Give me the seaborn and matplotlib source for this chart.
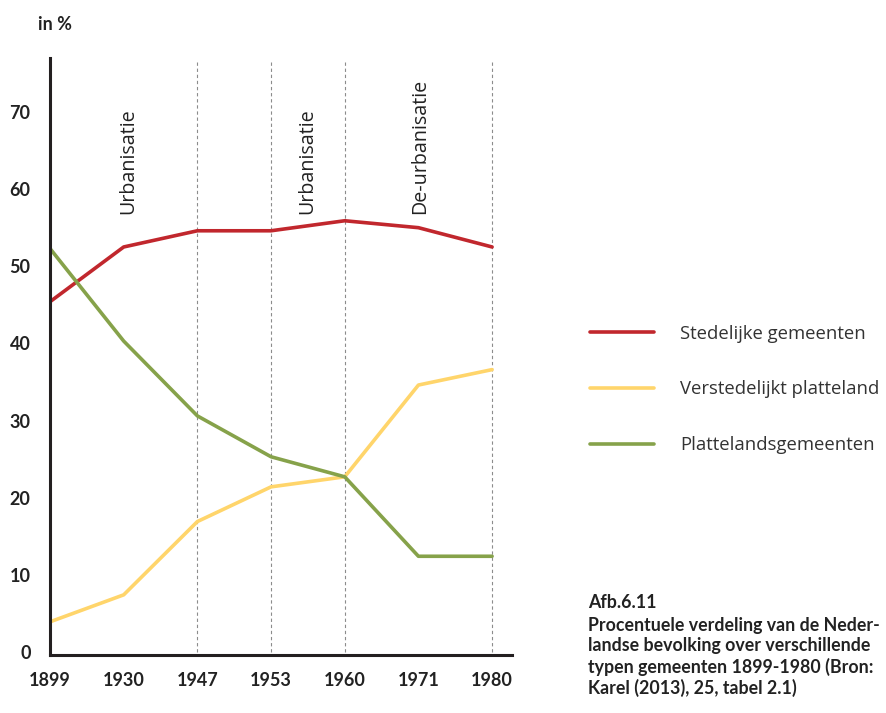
import matplotlib
matplotlib.use("Agg")
import matplotlib.pyplot as plt
import seaborn as sns
import pandas as pd
from matplotlib.lines import Line2D

years = ["1899", "1930", "1947", "1953", "1960", "1971", "1980"]
stedelijk = [45.4, 52.5, 54.6, 54.6, 55.9, 55.0, 52.5]
verstedelijkt = [3.9, 7.4, 16.9, 21.4, 22.7, 34.6, 36.6]
platteland = [52.3, 40.3, 30.6, 25.3, 22.7, 12.4, 12.4]
series_names = ["Stedelijke gemeenten", "Verstedelijkt platteland", "Plattelandsgemeenten"]
colors = ["#c1272d", "#ffd56b", "#86a24a"]
y_ticks = [0, 10, 20, 30, 40, 50, 60, 70]
boundary_years = ["1947", "1953", "1960", "1980"]
phase_labels = ["Urbanisatie", "Urbanisatie", "De-urbanisatie"]
phase_pos = [1.06, 3.49, 5.02]

rows = []
for name, vals in zip(series_names, [stedelijk, verstedelijkt, platteland]):
    for i, (yr, v) in enumerate(zip(years, vals)):
        rows.append({"pos": i, "jaar": yr, "aandeel": v, "type": name})
df = pd.DataFrame(rows)

sns.set_style("white")
plt.rcParams["font.family"] = ["Lato", "DejaVu Sans"]

fig = plt.figure(figsize=(8.87, 7.13), dpi=100)
ax = fig.add_axes([50 / 887, 1 - 655 / 713, (512 - 50) / 887, (655 - 58) / 713])

sns.lineplot(data=df, x="pos", y="aandeel", hue="type", hue_order=series_names,
             palette=colors, linewidth=2.6, ax=ax, legend=False, sort=False)

ax.set_xlim(0, 6.27)
ax.set_ylim(-0.4, 77)

for yr in boundary_years:
    ax.plot([years.index(yr)] * 2, [0, 76.7], linestyle=(0, (3, 2.5)),
            color="#8c8c8c", linewidth=0.8, zorder=0)

for label, xpos in zip(phase_labels, phase_pos):
    ax.text(xpos, 56.8, label, rotation=90, ha="center", va="bottom",
            fontsize=14.2, color="#222222", family=["Open Sans", "DejaVu Sans"])

ax.set_xticks(range(len(years)))
ax.set_xticklabels(years, fontsize=13, fontweight="bold", color="#222222")
ax.set_yticks(y_ticks)
ax.set_yticklabels([str(t) for t in y_ticks], fontsize=13, fontweight="bold", color="#222222")
ax.tick_params(axis="x", length=0, pad=12)
ax.tick_params(axis="y", length=0, pad=14)
ax.set_xlabel("")
ax.set_ylabel("")

for side in ["top", "right"]:
    ax.spines[side].set_visible(False)
for side in ["left", "bottom"]:
    ax.spines[side].set_color("#231f20")
    ax.spines[side].set_linewidth(2.2)

fig.text(38 / 887, 1 - 25 / 713, "in %", fontsize=13, fontweight="bold",
         color="#222222", ha="left", va="center")

handles = [Line2D([0], [0], color=c, linewidth=2.6) for c in colors]
fig.legend(handles, series_names, loc="upper left",
           bbox_to_anchor=(573 / 887, 1 - 308 / 713), frameon=False,
           prop={"family": ["Open Sans", "DejaVu Sans"], "size": 13.3},
           handlelength=3.5, handletextpad=1.4, labelspacing=2.05,
           labelcolor="#333333")

caption = ["Procentuele verdeling van de Neder-",
           "landse bevolking over verschillende",
           "typen gemeenten 1899-1980 (Bron:",
           "Karel (2013), 25, tabel 2.1)"]
fig.text(588 / 887, 1 - 602 / 713, "Afb.6.11", fontsize=12.8, fontweight="bold",
         color="#222222", ha="left", va="center")
for i, line in enumerate(caption):
    fig.text(588 / 887, 1 - (625 + 21 * i) / 713, line, fontsize=12.8,
             fontweight="bold", color="#222222", ha="left", va="center")

fig.savefig("out.png", dpi=100)
